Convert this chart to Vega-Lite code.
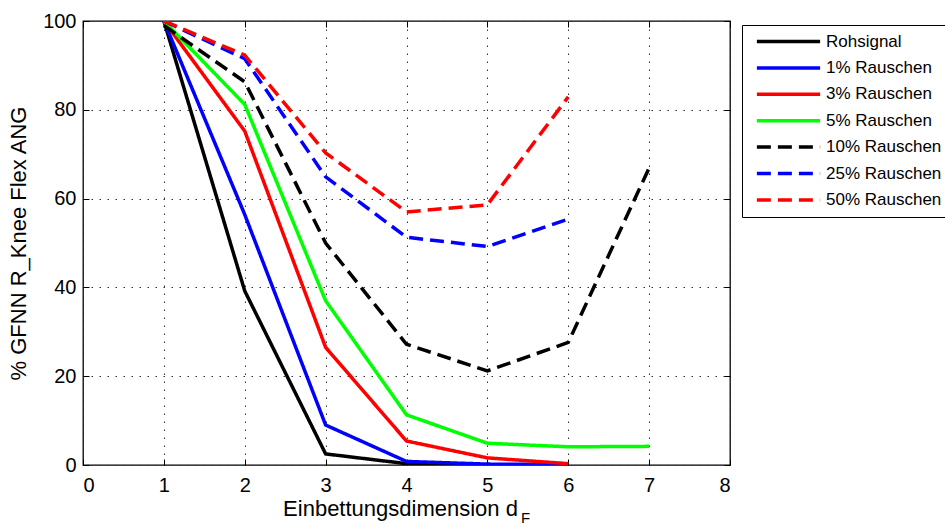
{
  "$schema": "https://vega.github.io/schema/vega-lite/v6.json",
  "width": 647,
  "height": 444,
  "autosize": {"type": "none"},
  "padding": {"left": 83, "top": 21, "right": 215, "bottom": 61},
  "background": "white",
  "config": {
    "font": "Liberation Sans",
    "view": {"stroke": "black", "strokeWidth": 1.3},
    "axis": {
      "domain": false,
      "tickColor": "black",
      "tickSize": -6,
      "labelColor": "black",
      "titleColor": "black",
      "titleFontWeight": "normal",
      "labelFont": "Liberation Sans",
      "titleFont": "Liberation Sans"
    }
  },
  "data": {
    "values": [
      {"dim": 1, "pct": 100, "series": "Rohsignal"},
      {"dim": 2, "pct": 39.2, "series": "Rohsignal"},
      {"dim": 3, "pct": 2.5, "series": "Rohsignal"},
      {"dim": 4, "pct": 0.3, "series": "Rohsignal"},
      {"dim": 5, "pct": 0, "series": "Rohsignal"},
      {"dim": 6, "pct": 0, "series": "Rohsignal"},
      {"dim": 1, "pct": 100, "series": "1% Rauschen"},
      {"dim": 2, "pct": 56.4, "series": "1% Rauschen"},
      {"dim": 3, "pct": 9, "series": "1% Rauschen"},
      {"dim": 4, "pct": 0.8, "series": "1% Rauschen"},
      {"dim": 5, "pct": 0.2, "series": "1% Rauschen"},
      {"dim": 6, "pct": 0.1, "series": "1% Rauschen"},
      {"dim": 1, "pct": 100, "series": "3% Rauschen"},
      {"dim": 2, "pct": 75.2, "series": "3% Rauschen"},
      {"dim": 3, "pct": 26.5, "series": "3% Rauschen"},
      {"dim": 4, "pct": 5.4, "series": "3% Rauschen"},
      {"dim": 5, "pct": 1.6, "series": "3% Rauschen"},
      {"dim": 6, "pct": 0.3, "series": "3% Rauschen"},
      {"dim": 1, "pct": 100, "series": "5% Rauschen"},
      {"dim": 2, "pct": 81.2, "series": "5% Rauschen"},
      {"dim": 3, "pct": 37, "series": "5% Rauschen"},
      {"dim": 4, "pct": 11.3, "series": "5% Rauschen"},
      {"dim": 5, "pct": 4.9, "series": "5% Rauschen"},
      {"dim": 6, "pct": 4.1, "series": "5% Rauschen"},
      {"dim": 7, "pct": 4.2, "series": "5% Rauschen"},
      {"dim": 1, "pct": 99, "series": "10% Rauschen"},
      {"dim": 2, "pct": 86.3, "series": "10% Rauschen"},
      {"dim": 3, "pct": 50, "series": "10% Rauschen"},
      {"dim": 4, "pct": 27.2, "series": "10% Rauschen"},
      {"dim": 5, "pct": 21.2, "series": "10% Rauschen"},
      {"dim": 6, "pct": 27.6, "series": "10% Rauschen"},
      {"dim": 7, "pct": 66.9, "series": "10% Rauschen"},
      {"dim": 1, "pct": 100, "series": "25% Rauschen"},
      {"dim": 2, "pct": 91.5, "series": "25% Rauschen"},
      {"dim": 3, "pct": 64.9, "series": "25% Rauschen"},
      {"dim": 4, "pct": 51.3, "series": "25% Rauschen"},
      {"dim": 5, "pct": 49.2, "series": "25% Rauschen"},
      {"dim": 6, "pct": 55.4, "series": "25% Rauschen"},
      {"dim": 1, "pct": 100, "series": "50% Rauschen"},
      {"dim": 2, "pct": 92.3, "series": "50% Rauschen"},
      {"dim": 3, "pct": 70.3, "series": "50% Rauschen"},
      {"dim": 4, "pct": 57, "series": "50% Rauschen"},
      {"dim": 5, "pct": 58.6, "series": "50% Rauschen"},
      {"dim": 6, "pct": 82.9, "series": "50% Rauschen"}
    ]
  },
  "layer": [
    {
      "mark": {"type": "line", "strokeWidth": 3.5, "clip": true},
      "encoding": {
        "x": {
          "field": "dim",
          "type": "quantitative",
          "scale": {"domain": [0, 8], "nice": false, "zero": false},
          "axis": {
            "orient": "bottom",
            "values": [0, 1, 2, 3, 4, 5, 6, 7, 8],
            "format": "d",
            "labelFontSize": 20,
            "labelPadding": 16,
            "title": "Einbettungsdimension d",
            "titleFontSize": 22,
            "titlePadding": 3,
            "titleX": 317,
            "titleAnchor": "middle",
            "titleAlign": "center",
            "grid": true,
            "gridColor": "#333333",
            "gridDash": [1.5, 6.5],
            "gridWidth": 1,
            "gridOpacity": 1
          }
        },
        "y": {
          "field": "pct",
          "type": "quantitative",
          "scale": {"domain": [0, 100], "nice": false},
          "axis": {
            "orient": "left",
            "values": [0, 20, 40, 60, 80, 100],
            "labelFontSize": 20,
            "labelPadding": 13,
            "title": "% GFNN R_Knee Flex ANG",
            "titleFontSize": 22,
            "titlePadding": 12,
            "grid": true,
            "gridColor": "#333333",
            "gridDash": [1.5, 6.5],
            "gridWidth": 1,
            "gridOpacity": 1
          }
        },
        "color": {
          "field": "series",
          "type": "nominal",
          "scale": {
            "domain": ["Rohsignal", "1% Rauschen", "3% Rauschen", "5% Rauschen", "10% Rauschen", "25% Rauschen", "50% Rauschen"],
            "range": ["#000000", "#0000ff", "#ff0000", "#00ff00", "#000000", "#0000ff", "#ff0000"]
          },
          "legend": {
            "orient": "none",
            "legendX": 659,
            "legendY": 4,
            "title": null,
            "strokeColor": "black",
            "fillColor": "white",
            "padding": 6,
            "symbolOffset": 7,
            "symbolType": "stroke",
            "symbolSize": 4000,
            "symbolStrokeWidth": 3.5,
            "clipHeight": 21,
            "rowPadding": 5.4,
            "labelFontSize": 17,
            "labelColor": "black",
            "labelOffset": 4,
            "labelExpr": "(datum.label == 'Rohsignal' || length(datum.label) > 11) ? datum.label : '\u00a0' + datum.label"
          }
        },
        "strokeDash": {
          "field": "series",
          "type": "nominal",
          "scale": {
            "domain": ["Rohsignal", "1% Rauschen", "3% Rauschen", "5% Rauschen", "10% Rauschen", "25% Rauschen", "50% Rauschen"],
            "range": [[1, 0], [1, 0], [1, 0], [1, 0], [14, 7], [14, 7], [14, 7]]
          },
          "legend": null
        }
      }
    },
    {
      "mark": {"type": "line", "opacity": 0},
      "encoding": {
        "x": {
          "field": "dim",
          "type": "quantitative",
          "axis": {
            "orient": "top",
            "values": [0, 1, 2, 3, 4, 5, 6, 7, 8],
            "labels": false,
            "grid": false,
            "title": "F",
            "titleFontSize": 15,
            "titleAngle": 0,
            "titleAlign": "center",
            "titleBaseline": "alphabetic",
            "titleX": 442,
            "titleY": 501
          }
        },
        "y": {
          "field": "pct",
          "type": "quantitative",
          "axis": {
            "orient": "right",
            "values": [0, 20, 40, 60, 80, 100],
            "labels": false,
            "grid": false,
            "title": null
          }
        },
        "detail": {"field": "series"}
      }
    }
  ],
  "resolve": {"axis": {"x": "independent", "y": "independent"}}
}
